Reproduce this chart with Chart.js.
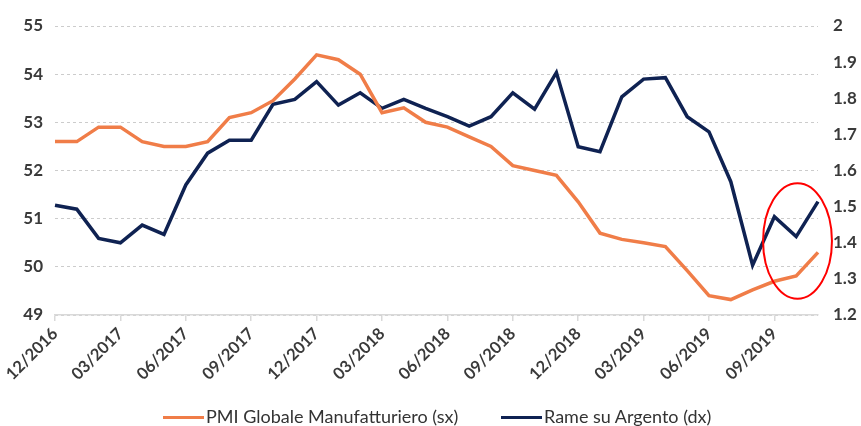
<!DOCTYPE html>
<html>
<head>
<meta charset="utf-8">
<script src="https://cdn.jsdelivr.net/npm/chart.js@4.4.1/dist/chart.umd.min.js"></script>
<style>
    body { margin: 0; background: #fff; }
    #wrap { position: relative; width: 861px; height: 426px; }
    #legend { position: absolute; left: 163px; top: 400px; height: 24px; line-height: 24px; font-family: Lato, sans-serif; font-size: 18px; color: #333; white-space: nowrap; }
    .item { display: inline-flex; align-items: center; margin-right: 38px; }
    .swatch { display: inline-block; width: 41px; height: 3.5px; margin-right: 2px; margin-top: 3px; }
</style>
</head>
<body>
<div id="wrap">
    <canvas id="chart" width="861" height="426"></canvas>
    <div id="legend">
        <span class="item"><span class="swatch" style="background:#F07D48"></span>PMI Globale Manufatturiero (sx)</span>
        <span class="item"><span class="swatch" style="background:#0F2252"></span>Rame su Argento (dx)</span>
    </div>
</div>
<script>
// mesi 12/2016 - 11/2019
const months = ['12/2016','01/2017','02/2017','03/2017','04/2017','05/2017','06/2017','07/2017','08/2017','09/2017','10/2017','11/2017',
    '12/2017','01/2018','02/2018','03/2018','04/2018','05/2018','06/2018','07/2018','08/2018','09/2018','10/2018','11/2018',
    '12/2018','01/2019','02/2019','03/2019','04/2019','05/2019','06/2019','07/2019','08/2019','09/2019','10/2019','11/2019'];

const pmi = [52.6, 52.6, 52.9, 52.9, 52.6, 52.5, 52.5, 52.6, 53.1, 53.2, 53.45, 53.9,
    54.4, 54.3, 54.0, 53.2, 53.3, 53.0, 52.9, 52.7, 52.5, 52.1, 52.0, 51.9,
    51.35, 50.7, 50.57, 50.5, 50.42, 49.92, 49.4, 49.32, 49.52, 49.7, 49.81, 50.3];

const rameArgento = [1.504, 1.493, 1.412, 1.40, 1.449, 1.423, 1.56, 1.648, 1.684, 1.684, 1.783, 1.797,
    1.846, 1.781, 1.815, 1.772, 1.797, 1.772, 1.749, 1.723, 1.749, 1.815, 1.77, 1.871,
    1.666, 1.652, 1.804, 1.853, 1.857, 1.749, 1.707, 1.569, 1.338, 1.472, 1.417, 1.514];

const leftTicks = [49, 50, 51, 52, 53, 54, 55];
const rightTicks = [1.2, 1.3, 1.4, 1.5, 1.6, 1.7, 1.8, 1.9, 2];

// cerchio rosso sugli ultimi mesi (indice mese, valore asse dx)
const highlight = { x: 34.06, y: 1.405, rx: 1.58, ry: 0.16 };

const ellipsePlugin = {
    id: 'ellipse',
    afterDatasetsDraw(chart) {
        const ctx = chart.ctx;
        const xs = chart.scales.x, ys = chart.scales.y1;
        const cx = xs.getPixelForValue(highlight.x);
        const cy = ys.getPixelForValue(highlight.y);
        const rx = xs.getPixelForValue(highlight.x + highlight.rx) - cx;
        const ry = cy - ys.getPixelForValue(highlight.y + highlight.ry);
        ctx.save();
        ctx.beginPath();
        ctx.ellipse(cx, cy, rx, ry, 0, 0, Math.PI * 2);
        ctx.strokeStyle = '#FF0000';
        ctx.lineWidth = 2;
        ctx.stroke();
        ctx.restore();
    }
};

const tickFont = { family: 'Lato, sans-serif', size: 17, weight: 'bold' };

new Chart(document.getElementById('chart'), {
    type: 'line',
    data: {
        labels: months,
        datasets: [{
            label: 'PMI Globale Manufatturiero (sx)',
            data: pmi,
            borderColor: '#F07D48',
            borderWidth: 3.5,
            pointRadius: 0,
            tension: 0,
            yAxisID: 'y'
        }, {
            label: 'Rame su Argento (dx)',
            data: rameArgento,
            borderColor: '#0F2252',
            borderWidth: 3.5,
            pointRadius: 0,
            tension: 0,
            yAxisID: 'y1'
        }]
    },
    options: {
        responsive: false,
        animation: false,
        layout: { padding: { top: 26, bottom: 0, left: 0, right: 0 } },
        plugins: {
            legend: { display: false },
            tooltip: { enabled: false }
        },
        scales: {
            x: {
                offset: false,
                border: { color: '#d9d9d9', width: 1.5 },
                grid: { drawOnChartArea: false, color: '#d9d9d9', tickLength: 6, lineWidth: 1.5 },
                ticks: {
                    autoSkip: false,
                    maxRotation: 45,
                    minRotation: 45,
                    color: '#3a3a3a',
                    font: { family: 'Lato, sans-serif', size: 16.5, weight: 'bold' },
                    padding: 3,
                    callback: function(value, index) {
                        return index % 3 === 0 ? months[index] : null;
                    }
                },
                afterFit(scale) { scale.height = 111; }
            },
            y: {
                position: 'left',
                min: 49,
                max: 55,
                border: { display: false, dash: [3, 3] },
                grid: { color: '#cccccc', lineWidth: 1, drawTicks: false },
                afterBuildTicks(scale) { scale.ticks = leftTicks.map(v => ({ value: v })); },
                ticks: { color: '#3a3a3a', font: tickFont, padding: 12 },
                afterFit(scale) { scale.width = 55; }
            },
            y1: {
                position: 'right',
                min: 1.2,
                max: 2,
                border: { display: false },
                grid: { drawOnChartArea: false, drawTicks: false },
                afterBuildTicks(scale) { scale.ticks = rightTicks.map(v => ({ value: v })); },
                ticks: { color: '#3a3a3a', font: tickFont, padding: 15,
                    callback: v => String(Math.round(v * 10) / 10) },
                afterFit(scale) { scale.width = 43; }
            }
        }
    },
    plugins: [ellipsePlugin]
});
</script>
</body>
</html>
